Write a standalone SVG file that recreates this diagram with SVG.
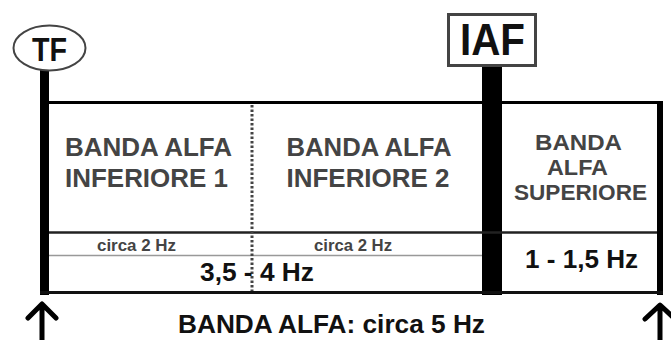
<svg xmlns="http://www.w3.org/2000/svg" width="671" height="340" viewBox="0 0 671 340">
<style>
text{font-family:"Liberation Sans",Arial,sans-serif;font-weight:bold;text-anchor:middle}
.lbl{fill:#444;font-size:25.5px}
.lbr{fill:#444;font-size:22.5px}
.sm{fill:#444;font-size:16px}
.hz{fill:#111;font-size:25px}
.arrow{fill:none;stroke:#000;stroke-width:5;stroke-linecap:round;stroke-linejoin:round}
</style>
<rect width="671" height="340" fill="#fff"/>
<g id="connectors">
<rect x="40" y="70" width="9" height="225" fill="#000"/>
<rect x="482" y="66" width="20" height="229" fill="#000"/>
<line x1="47" y1="102.5" x2="663" y2="102.5" stroke="#000" stroke-width="3"/>
<rect x="657" y="101" width="6" height="194" fill="#000"/>
<line x1="40" y1="292.5" x2="663" y2="292.5" stroke="#111" stroke-width="3"/>
<line x1="49" y1="232.5" x2="657" y2="232.5" stroke="#222" stroke-width="2.5"/>
<line x1="49" y1="255.5" x2="482" y2="255.5" stroke="#999" stroke-width="1.5"/>
<line x1="252" y1="105" x2="252" y2="291" stroke="#444" stroke-width="3" stroke-dasharray="2.5 2"/>
<path class="arrow" d="M42 340V305M28 318L42 304L56 318"/>
<path class="arrow" d="M660 340V306M645 319L660 305L675 319"/>
</g>
<g id="tf">
<ellipse cx="49.5" cy="48" rx="36" ry="22.5" fill="#fff" stroke="#444" stroke-width="2"/>
<text x="49.5" y="61" font-size="33" fill="#111" textLength="35" lengthAdjust="spacingAndGlyphs">TF</text>
</g>
<g id="iaf">
<rect x="448.5" y="14.5" width="87" height="51" fill="#fff" stroke="#444" stroke-width="3"/>
<text x="492.5" y="55" font-size="44" fill="#111" textLength="65" lengthAdjust="spacingAndGlyphs">IAF</text>
</g>
<g id="inferiore1">
<text class="lbl" x="148.5" y="156" textLength="167" lengthAdjust="spacingAndGlyphs">BANDA ALFA</text>
<text class="lbl" x="146.5" y="187" textLength="163" lengthAdjust="spacingAndGlyphs">INFERIORE 1</text>
<text class="sm" x="136.5" y="251" textLength="79" lengthAdjust="spacingAndGlyphs">circa 2 Hz</text>
</g>
<g id="inferiore2">
<text class="lbl" x="369" y="156" textLength="165" lengthAdjust="spacingAndGlyphs">BANDA ALFA</text>
<text class="lbl" x="368" y="187" textLength="163" lengthAdjust="spacingAndGlyphs">INFERIORE 2</text>
<text class="sm" x="353" y="251" textLength="78" lengthAdjust="spacingAndGlyphs">circa 2 Hz</text>
</g>
<g id="inferiore-total">
<text class="hz" x="257" y="281" textLength="114" lengthAdjust="spacingAndGlyphs">3,5 - 4 Hz</text>
</g>
<g id="superiore">
<text class="lbr" x="578.5" y="150" textLength="87" lengthAdjust="spacingAndGlyphs">BANDA</text>
<text class="lbr" x="577.5" y="175" textLength="61" lengthAdjust="spacingAndGlyphs">ALFA</text>
<text class="lbr" x="580.5" y="200" textLength="133" lengthAdjust="spacingAndGlyphs">SUPERIORE</text>
<text class="hz" x="581.5" y="268" textLength="113" lengthAdjust="spacingAndGlyphs">1 - 1,5 Hz</text>
</g>
<g id="banda-alfa">
<text x="331.5" y="333" font-size="26" fill="#111" textLength="307" lengthAdjust="spacingAndGlyphs">BANDA ALFA: circa 5 Hz</text>
</g>
</svg>
